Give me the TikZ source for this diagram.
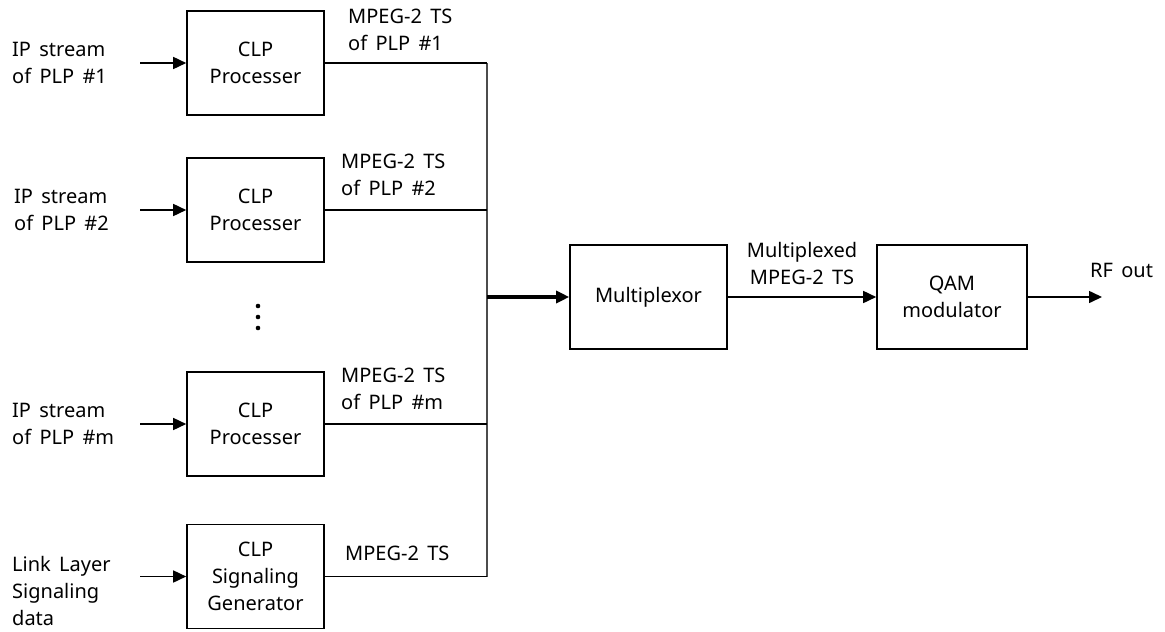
\documentclass[tikz,border=0pt]{standalone}
\usepackage{fontspec}
\setmainfont{Noto Sans}[WordSpace=1.6]
\usetikzlibrary{arrows.meta}
\begin{document}
\begin{tikzpicture}[x=1pt,y=-1pt,
  every node/.style={font=\fontsize{20}{27}\selectfont},
  blk/.style={draw, line width=1.6pt, minimum width=137pt, minimum height=104pt,
              align=center, inner sep=0pt},
  lbl/.style={align=left, inner sep=0pt},
  line/.style={line width=1.6pt},
  bus/.style={line width=2.4pt, draw=black!70},
  arr/.style={line width=1.6pt, -{Triangle[length=13pt,width=12pt]}},
  thickarr/.style={line width=3.2pt, -{Triangle[length=13pt,width=12pt]}}]
\useasboundingbox (0,0) rectangle (1165,632);

% processing blocks
\node[blk] (c1) at (255.5,63)    {CLP\\Processer};
\node[blk] (c2) at (255.5,210)   {CLP\\Processer};
\node[blk] (cm) at (255.5,424)   {CLP\\Processer};
\node[blk] (sg) at (255.5,576.5) {CLP\\Signaling\\Generator};
\node[blk, minimum width=157pt] (mux) at (648.5,297) {Multiplexor};
\node[blk, minimum width=150pt] (qam) at (952,297)   {QAM\\modulator};

% input labels
\node[lbl, anchor=west] (i1) at (12,63)    {IP stream\\of PLP \#1};
\node[lbl, anchor=west] (i2) at (14,210)   {IP stream\\of PLP \#2};
\node[lbl, anchor=west] (im) at (12,424)   {IP stream\\of PLP \#m};
\node[lbl, anchor=west] (is) at (12,591)   {Link Layer\\Signaling\\data};

% output labels
\node[lbl, anchor=west] (o1) at (348,30)   {MPEG-2 TS\\of PLP \#1};
\node[lbl, anchor=west] (o2) at (341,175)  {MPEG-2 TS\\of PLP \#2};
\node[lbl, anchor=west] (om) at (341,389)  {MPEG-2 TS\\of PLP \#m};
\node[lbl, anchor=west] (os) at (345,553)  {MPEG-2 TS};
\node[align=center, inner sep=0pt] (ml) at (802,263) {Multiplexed\\MPEG-2 TS};
\node[lbl, anchor=west] (rf) at (1090,270) {RF out};

% input arrow tails and bus points
\coordinate (a1) at (140,63);
\coordinate (a2) at (140,210);
\coordinate (am) at (140,424);
\coordinate (as) at (140,576.5);
\coordinate (b1) at (487,63);
\coordinate (b2) at (487,210);
\coordinate (bm) at (487,424);
\coordinate (bs) at (487,576.5);
\coordinate (bj) at (487,297);
\coordinate (rfend) at (1102,297);

% inputs
\draw[arr] (a1) -- (c1.west);
\draw[arr] (a2) -- (c2.west);
\draw[arr] (am) -- (cm.west);
\draw[arr] (as) -- (sg.west);

% outputs onto the bus
\draw[bus] (b1) -- (bs);
\draw[line] (c1.east) -- (b1);
\draw[line] (c2.east) -- (b2);
\draw[line] (cm.east) -- (bm);
\draw[line] (sg.east) -- (bs);

% bus to multiplexor and onwards
\draw[thickarr] (bj) -- (mux.west);
\draw[arr] (mux.east) -- (qam.west);
\draw[arr] (qam.east) -- (rfend);

% vertical ellipsis
\foreach \yy/\nm in {306/d1,317/d2,328/d3}
  \fill (258,\yy) circle[radius=2.3pt] coordinate (\nm);
\end{tikzpicture}
\end{document}
